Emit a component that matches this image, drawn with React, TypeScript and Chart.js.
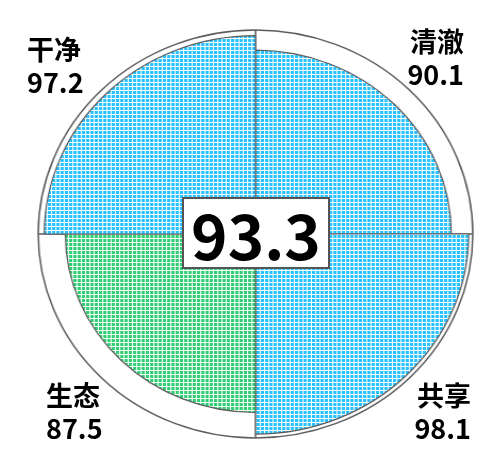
import { useEffect, useRef } from "react";
import { Chart, registerables } from "chart.js";

Chart.register(...registerables);

const CATEGORIES = ["清澈", "共享", "生态", "干净"];
const SCORES = [90.1, 98.1, 87.5, 97.2];
const TOTAL_SCORE = "93.3";
const SCALE_MAX = 100;

const BLUE = "#28c2ff";
const GREEN = "#2fd072";
const SEGMENT_COLORS = [BLUE, BLUE, GREEN, BLUE];
const LINE_COLOR = "#5c5c5c";

const FONT = '"Noto Sans CJK SC", "Noto Sans", sans-serif';

// canvas buffer is square, then stretched sideways by css like the original
const BUF = 414;
const CSS_W = 441;
const CENTER_X = 255;
const CENTER_Y = 234;

const makeGridPattern = (color: string) => {
  const c = document.createElement("canvas");
  c.width = 4;
  c.height = 4;
  const g = c.getContext("2d")!;
  g.fillStyle = "#ffffff";
  g.fillRect(0, 0, 4, 4);
  g.fillStyle = color;
  g.fillRect(0, 0, 3, 3);
  return g.createPattern(c, "repeat")!;
};

// label blocks around the circle
const LABEL_POS: Record<string, { left?: number; right?: number; top: number }> = {
  清澈: { right: 37, top: 24 },
  共享: { right: 30, top: 378 },
  生态: { left: 46, top: 378 },
  干净: { left: 27, top: 32 },
};

export default function App() {
  const chartRef = useRef<HTMLCanvasElement>(null);
  const chartInstance = useRef<Chart | null>(null);

  useEffect(() => {
    if (!chartRef.current) return;
    const ctx = chartRef.current.getContext("2d");
    if (!ctx) return;

    if (chartInstance.current) {
      chartInstance.current.destroy();
      chartInstance.current = null;
    }

    chartInstance.current = new Chart(ctx, {
      type: "polarArea",
      data: {
        labels: CATEGORIES,
        datasets: [
          {
            data: SCORES,
            backgroundColor: SEGMENT_COLORS.map(makeGridPattern),
            borderColor: LINE_COLOR,
            borderWidth: 1.2,
          },
        ],
      },
      options: {
        responsive: false,
        animation: false,
        layout: { padding: 3 },
        plugins: {
          legend: { display: false },
          tooltip: { enabled: false },
        },
        scales: {
          r: {
            min: 0,
            max: SCALE_MAX,
            ticks: { display: false, stepSize: SCALE_MAX },
            grid: { display: true, circular: true, color: LINE_COLOR, lineWidth: 1.5 },
            angleLines: { display: true, color: LINE_COLOR, lineWidth: 1.6 },
            pointLabels: { display: false },
          },
        },
      },
    });

    return () => {
      if (chartInstance.current) {
        chartInstance.current.destroy();
        chartInstance.current = null;
      }
    };
  }, []);

  return (
    <div
      style={{
        position: "fixed",
        left: 0,
        top: 0,
        width: 501,
        height: 453,
        background: "#ffffff",
        fontFamily: FONT,
      }}
    >
      <canvas
        ref={chartRef}
        width={BUF}
        height={BUF}
        style={{
          position: "absolute",
          left: CENTER_X - CSS_W / 2,
          top: CENTER_Y - BUF / 2,
          width: CSS_W,
          height: BUF,
        }}
      ></canvas>

      {CATEGORIES.map((name, i) => {
        const pos = LABEL_POS[name];
        return (
          <div
            key={name}
            style={{
              position: "absolute",
              left: pos.left,
              right: pos.right,
              top: pos.top,
              fontSize: 27,
              fontWeight: 700,
              lineHeight: "33px",
              color: "#000",
              textAlign: pos.right !== undefined ? "right" : "left",
            }}
          >
            <div>{name}</div>
            <div>{SCORES[i].toFixed(1)}</div>
          </div>
        );
      })}

      <div
        style={{
          position: "absolute",
          left: 182,
          top: 197,
          width: 144,
          height: 68,
          border: "2px solid #555",
          background: "#ffffff",
          display: "flex",
          alignItems: "center",
          justifyContent: "center",
          fontSize: 62,
          fontWeight: 700,
          lineHeight: 1,
          color: "#000",
        }}
      >
        {TOTAL_SCORE}
      </div>
    </div>
  );
}
